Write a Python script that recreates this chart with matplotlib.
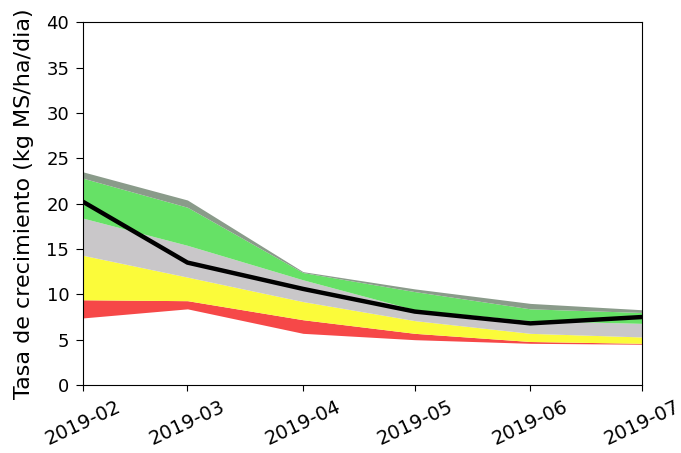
import matplotlib
matplotlib.use("Agg")
import matplotlib.pyplot as plt
import matplotlib.dates as mdates
import pandas as pd

# Monthly growth-rate percentile bands (kg MS/ha/dia)
fechas = pd.to_datetime(["2019-02-01", "2019-03-01", "2019-04-01",
                         "2019-05-01", "2019-06-01", "2019-07-01"])
p_min = [7.4, 8.4, 5.7, 5.0, 4.6, 4.5]
p_10 = [9.4, 9.3, 7.2, 5.7, 4.8, 4.6]
p_25 = [14.3, 11.9, 9.2, 7.1, 5.7, 5.3]
p_75 = [18.4, 15.4, 11.6, 8.3, 7.1, 6.8]
p_90 = [22.8, 19.6, 12.4, 10.3, 8.4, 8.0]
p_max = [23.5, 20.4, 12.5, 10.6, 9.0, 8.3]
mediana = [20.2, 13.5, 10.6, 8.1, 6.8, 7.5]

y_ticks = [0, 5, 10, 15, 20, 25, 30, 35, 40]

fig = plt.figure(figsize=(6.81, 4.53), dpi=100)
ax = fig.add_axes([0.122, 0.150, 0.821, 0.801])

ax.fill_between(fechas, p_min, p_10, color="#f64848", linewidth=0)
ax.fill_between(fechas, p_10, p_25, color="#fbfb3a", linewidth=0)
ax.fill_between(fechas, p_25, p_75, color="#c9c7c9", linewidth=0)
ax.fill_between(fechas, p_75, p_90, color="#66e166", linewidth=0)
ax.fill_between(fechas, p_90, p_max, color="#8a9b8a", linewidth=0)
ax.plot(fechas, mediana, color="black", linewidth=3.2)

ax.set_xlim(fechas[0], fechas[-1])
ax.set_ylim(0, 40)
ax.set_yticks(y_ticks)
ax.xaxis.set_major_locator(mdates.MonthLocator())
ax.xaxis.set_major_formatter(mdates.DateFormatter("%Y-%m"))
ax.tick_params(axis="y", labelsize=13, length=5, pad=5)
ax.tick_params(axis="x", labelsize=14, length=4, pad=5)
plt.setp(ax.get_xticklabels(), rotation=25, ha="center")
ax.set_ylabel("Tasa de crecimiento (kg MS/ha/dia)", fontsize=16, labelpad=9)

fig.savefig("out.png", dpi=100)
